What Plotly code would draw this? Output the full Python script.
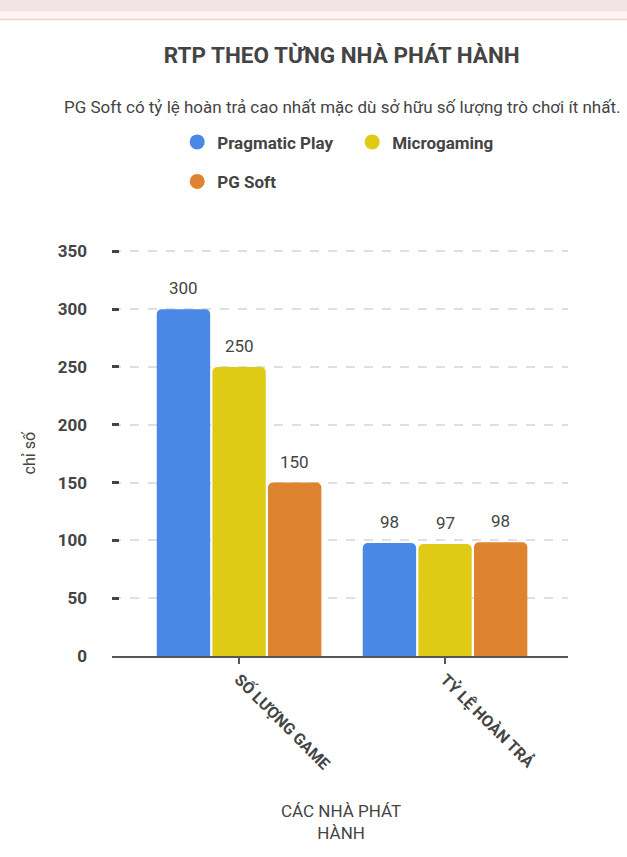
import plotly.graph_objects as go

# data
categories = ['SỐ LƯỢNG GAME', 'TỶ LỆ HOÀN TRẢ']
publishers = ['Pragmatic Play', 'Microgaming', 'PG Soft']
pragmatic = [300, 97.8]
microgaming = [250, 96.8]
pgsoft = [150, 98.4]
colors = ['#4a88e5', '#dfcb15', '#de8430']
y_ticks = [0, 50, 100, 150, 200, 250, 300, 350]

series = [pragmatic, microgaming, pgsoft]
bargap = 0.19
font = 'Roboto, Arial, sans-serif'
dark = '#444444'

fig = go.Figure()

for name, vals, col in zip(publishers, series, colors):
    fig.add_trace(go.Bar(
        x=categories, y=vals, name=name,
        marker=dict(color=col, line=dict(width=0), cornerradius=5),
        showlegend=False, hoverinfo='x+y+name'))

# legend entries with round symbols
for i, (name, col) in enumerate(zip(publishers, colors)):
    fig.add_trace(go.Scatter(
        x=[None], y=[None], mode='markers', name=name,
        marker=dict(color=col, size=15, symbol='circle'),
        legend='legend' if i < 2 else 'legend2'))

# value labels above bars
slot = (1 - bargap) / 3
annotations = []
for j, vals in enumerate(series):
    for ci, v in enumerate(vals):
        annotations.append(dict(
            x=ci + (j - 1) * slot, y=v, xref='x', yref='y',
            text=f'{v:.0f}', showarrow=False, yanchor='middle', yshift=21,
            font=dict(family=font, size=17, color=dark)))

annotations.append(dict(
    x=0.505, y=1.350, xref='paper', yref='paper', xanchor='center', yanchor='middle',
    text='PG Soft có tỷ lệ hoàn trả cao nhất mặc dù sở hữu số lượng trò chơi ít nhất.',
    showarrow=False, font=dict(family=font, size=17, color=dark)))
annotations.append(dict(
    x=-0.18, y=0.5, xref='paper', yref='paper', xanchor='center', yanchor='middle',
    text='chỉ số', textangle=-90, showarrow=False,
    font=dict(family=font, size=16, color=dark)))
annotations.append(dict(
    x=0.502, y=-0.407, xref='paper', yref='paper', xanchor='center', yanchor='middle',
    text='CÁC NHÀ PHÁT<br>HÀNH', showarrow=False,
    font=dict(family=font, size=17, color=dark)))

legend_style = dict(orientation='h', xanchor='left', yanchor='middle',
                    font=dict(family=font, size=17, color=dark, weight='bold'),
                    bgcolor='rgba(0,0,0,0)', itemclick=False, entrywidth=130)

fig.update_layout(
    width=627, height=857,
    margin=dict(l=112, r=59, t=249, b=201),
    paper_bgcolor='white', plot_bgcolor='white',
    barmode='group', bargap=bargap, bargroupgap=0.04,
    title=dict(text='<b>RTP THEO TỪNG NHÀ PHÁT HÀNH</b>', x=0.545, xanchor='center',
               y=0.936, yanchor='middle',
               font=dict(family=font, size=22.5, color=dark)),
    legend=dict(x=0.143, y=1.262, **legend_style),
    legend2=dict(x=0.143, y=1.165, **legend_style),
    annotations=annotations,
    shapes=[
        dict(type='rect', xref='paper', yref='paper', x0=-0.3, x1=1.2, y0=1.583, y1=1.7,
             fillcolor='#f2e4e4', line=dict(width=0), layer='below'),
        dict(type='rect', xref='paper', yref='paper', x0=-0.3, x1=1.2, y0=1.564, y1=1.583,
             fillcolor='#fef4f2', line=dict(width=0), layer='below'),
        dict(type='line', xref='paper', yref='paper', x0=-0.3, x1=1.2, y0=1.564, y1=1.564,
             line=dict(color='#f3d3cb', width=1.5)),
    ],
    xaxis=dict(
        type='category', range=[-0.617, 1.597],
        showline=True, linecolor='#555555', linewidth=2,
        ticks='outside', ticklen=6, tickwidth=1.5, tickcolor='#555555',
        tickangle=45, showgrid=False,
        tickfont=dict(family=font, size=16, color=dark, weight='bold')),
    yaxis=dict(
        range=[0, 352], tickvals=y_ticks, showline=False, zeroline=False,
        ticks='inside', ticklen=7, tickwidth=2.5, tickcolor=dark,
        showgrid=True, gridcolor='#e0e0e0', gridwidth=2, griddash='dash',
        ticklabelstandoff=24,
        tickfont=dict(family=font, size=17, color=dark, weight='bold')),
)

fig.write_html("out.html", config={'displayModeBar': False},
               post_script="document.body.style.margin='0';")
